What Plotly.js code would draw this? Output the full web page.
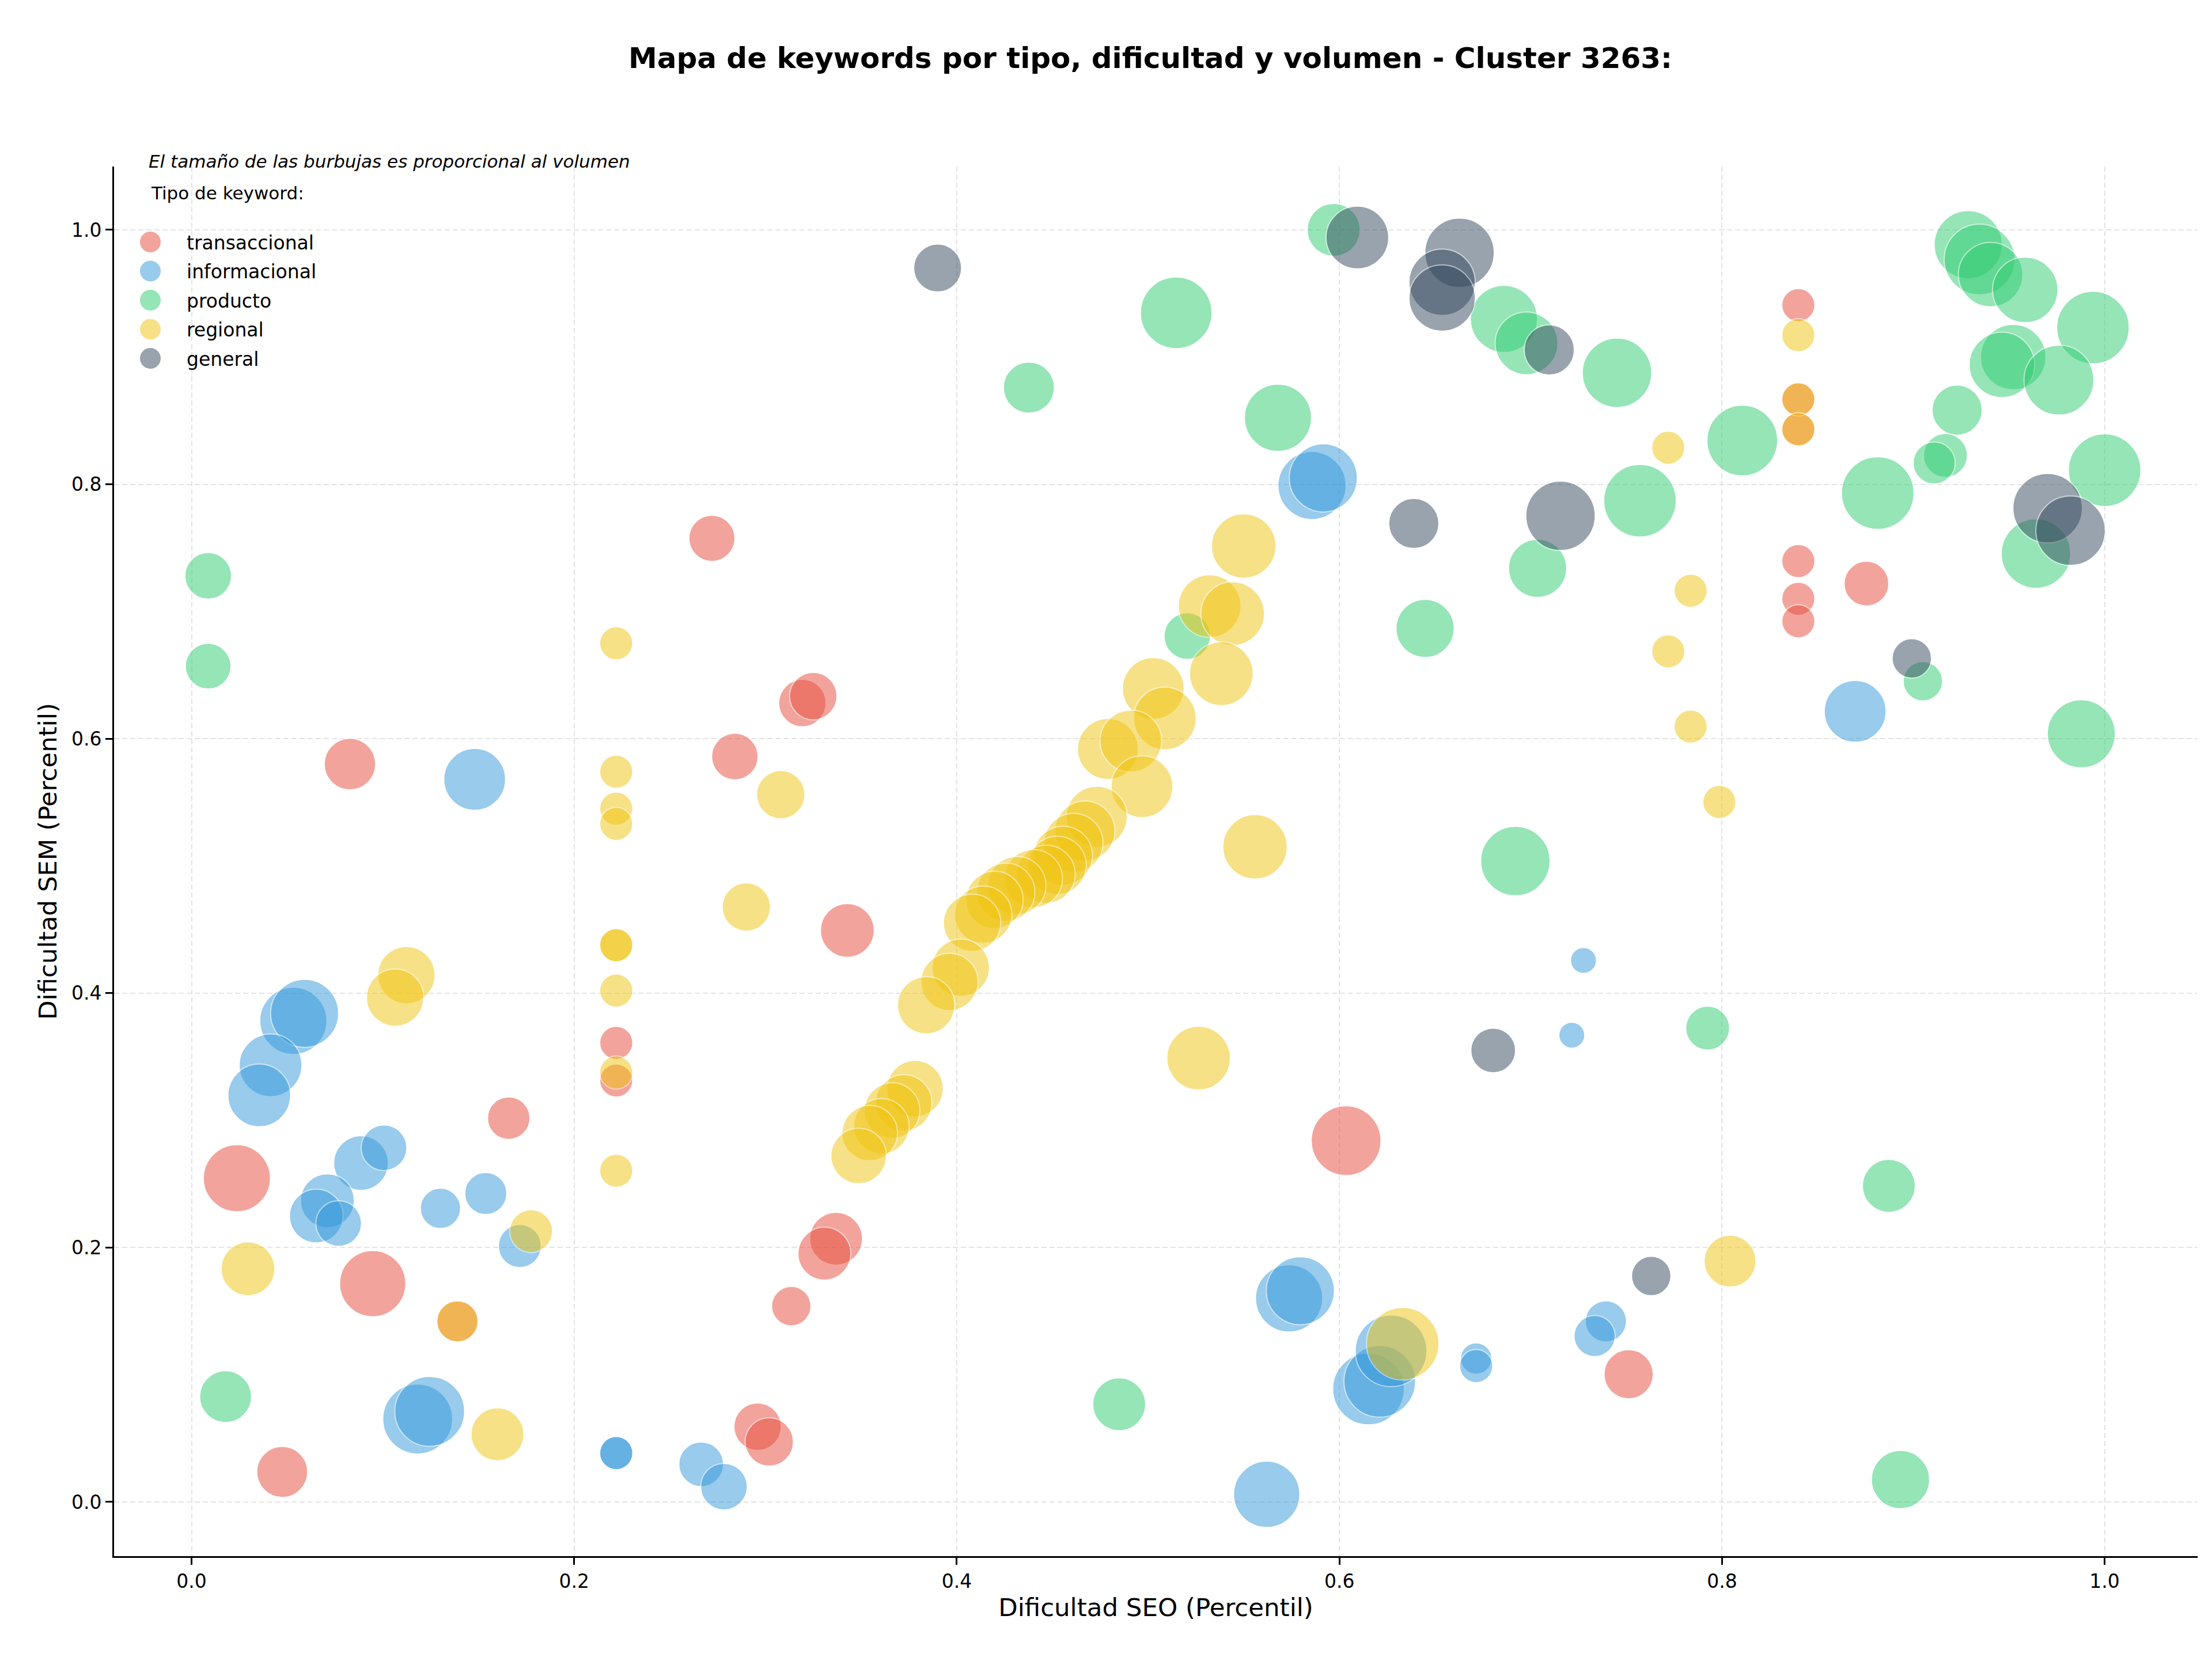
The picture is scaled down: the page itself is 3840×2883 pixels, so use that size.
<!DOCTYPE html>
<html>
<head>
<meta charset="utf-8">
<script src="https://cdn.plot.ly/plotly-3.0.1.min.js"></script>
<style>
html,body{margin:0;padding:0;background:#ffffff;}
#chart{width:3840px;height:2883px;}
</style>
</head>
<body>
<div id="chart"></div>
<script>
// ---------- DATA ----------
const tipos = ['transaccional', 'informacional', 'producto', 'regional', 'general'];
const colores = ['#e74c3c', '#3498db', '#2ecc71', '#f1c40f', '#34495e'];

const xTicks = [0, 0.2, 0.4, 0.6, 0.8, 1.0];
const xTickLabels = ['0.0', '0.2', '0.4', '0.6', '0.8', '1.0'];
const yTicks = [0, 0.2, 0.4, 0.6, 0.8, 1.0];
const yTickLabels = ['0.0', '0.2', '0.4', '0.6', '0.8', '1.0'];

// transaccional
const transSEO = [0.272, 0.3193, 0.325, 0.0828, 0.284, 0.3428, 0.222, 0.222, 0.1658, 0.0237, 0.0947, 0.3369, 0.3308, 0.3135, 0.2959, 0.302, 0.0474, 0.139, 0.6035, 0.7512, 0.8399, 0.8399, 0.8399, 0.8399, 0.8399, 0.8399, 0.8755];
const transSEM = [0.7575, 0.628, 0.6335, 0.580, 0.586, 0.4493, 0.3609, 0.3313, 0.3017, 0.2545, 0.1716, 0.2069, 0.1952, 0.154, 0.0592, 0.0472, 0.0236, 0.142, 0.284, 0.1004, 0.9408, 0.8668, 0.8432, 0.7396, 0.71, 0.6923, 0.7219];
const transVol = [642, 680, 680, 801, 655, 872, 332, 332, 546, 1362, 1326, 843, 843, 469, 680, 706, 787, 512, 1473, 733, 332, 332, 332, 332, 332, 332, 605];

// informacional
const infoSEO = [0.148, 0.5857, 0.5916, 0.0532, 0.0591, 0.0413, 0.0354, 0.0886, 0.1006, 0.071, 0.0652, 0.0769, 0.1301, 0.1538, 0.1716, 0.1182, 0.1245, 0.222, 0.222, 0.2664, 0.2783, 0.5737, 0.5796, 0.562, 0.6152, 0.6211, 0.627, 0.6715, 0.6715, 0.7276, 0.7215, 0.7393, 0.7334, 0.8696];
const infoSEM = [0.568, 0.799, 0.805, 0.3782, 0.3841, 0.3433, 0.3196, 0.2664, 0.2784, 0.2368, 0.2248, 0.2189, 0.2308, 0.2425, 0.2012, 0.0652, 0.0712, 0.0384, 0.0384, 0.0296, 0.012, 0.16, 0.166, 0.006, 0.0888, 0.0948, 0.1188, 0.1128, 0.1068, 0.4257, 0.3669, 0.142, 0.1304, 0.6215];
const infoVol = [1153, 1399, 1399, 1362, 1399, 1187, 1187, 901, 630, 872, 872, 630, 490, 535, 558, 1473, 1473, 332, 332, 605, 655, 1362, 1399, 1326, 1550, 1550, 1550, 297, 332, 204, 204, 512, 512, 1153];

// producto
const prodSEO = [0.0087, 0.0087, 0.0178, 0.597, 0.5147, 0.4377, 0.5679, 0.5205, 0.6448, 0.686, 0.6978, 0.7451, 0.8106, 0.7571, 0.7036, 0.8814, 0.905, 0.9878, 0.692, 0.9287, 0.9346, 0.9404, 0.9585, 0.9939, 0.9522, 0.9463, 0.9761, 0.9229, 0.9168, 0.9109, 1.0, 0.9641, 0.4849, 0.7925, 0.8872, 0.8933];
const prodSEM = [0.728, 0.657, 0.0828, 1.0, 0.9348, 0.876, 0.8523, 0.6807, 0.6867, 0.930, 0.9108, 0.8876, 0.8344, 0.7871, 0.7339, 0.7931, 0.6451, 0.6039, 0.5038, 0.9884, 0.9767, 0.9648, 0.9528, 0.9232, 0.90, 0.8939, 0.8819, 0.8583, 0.8227, 0.8167, 0.8111, 0.7455, 0.0768, 0.3725, 0.2485, 0.0176];
const prodVol = [655, 630, 815, 843, 1550, 787, 1362, 655, 1023, 1362, 1187, 1455, 1511, 1589, 1023, 1589, 469, 1399, 1455, 1399, 1511, 1255, 1291, 1589, 1291, 1291, 1473, 759, 581, 535, 1589, 1455, 843, 581, 843, 1023];

// regional
const regSEO = [0.222, 0.222, 0.222, 0.222, 0.308, 0.29, 0.1123, 0.1064, 0.222, 0.222, 0.222, 0.222, 0.222, 0.1775, 0.0295, 0.139, 0.1599, 0.550, 0.5322, 0.5442, 0.5383, 0.5027, 0.5088, 0.479, 0.491, 0.4968, 0.5559, 0.4732, 0.467, 0.461, 0.4555, 0.4525, 0.4467, 0.440, 0.4314, 0.4256, 0.4197, 0.4138, 0.408, 0.4021, 0.3962, 0.384, 0.3782, 0.3723, 0.3662, 0.3606, 0.3545, 0.3487, 0.5264, 0.6331, 0.8042, 0.7719, 0.7836, 0.7719, 0.7836, 0.7986, 0.8399, 0.8399, 0.8399];
const regSEM = [0.675, 0.574, 0.545, 0.533, 0.556, 0.4677, 0.4141, 0.3965, 0.4377, 0.4377, 0.402, 0.3376, 0.2604, 0.2129, 0.1833, 0.142, 0.0532, 0.7515, 0.7043, 0.6983, 0.6511, 0.6395, 0.6159, 0.5919, 0.5982, 0.5623, 0.515, 0.5387, 0.5274, 0.518, 0.508, 0.5004, 0.4934, 0.490, 0.4846, 0.4793, 0.4733, 0.4617, 0.4553, 0.42, 0.4088, 0.3905, 0.3249, 0.3137, 0.3077, 0.2953, 0.29, 0.272, 0.3489, 0.1244, 0.1893, 0.8287, 0.7163, 0.6687, 0.6095, 0.5503, 0.9172, 0.8668, 0.8432];
const regVol = [332, 332, 332, 332, 706, 706, 992, 992, 332, 332, 332, 332, 332, 558, 872, 512, 843, 1255, 1187, 1221, 1221, 1153, 1187, 1120, 1153, 1153, 1255, 1120, 1087, 1055, 1055, 1023, 1023, 1023, 1023, 1023, 992, 992, 992, 992, 992, 992, 961, 961, 931, 931, 931, 931, 1221, 1589, 815, 332, 332, 332, 332, 332, 332, 332, 332];

// general
const genSEO = [0.390, 0.6094, 0.6628, 0.6537, 0.6537, 0.6389, 0.7097, 0.7156, 0.8992, 0.9702, 0.9822, 0.6804, 0.763];
const genSEM = [0.970, 0.994, 0.982, 0.9588, 0.9464, 0.7692, 0.9056, 0.7752, 0.6631, 0.7812, 0.7635, 0.3549, 0.1776];
const genVol = [693, 1187, 1455, 1326, 1326, 759, 759, 1455, 469, 1455, 1455, 605, 469];

const seriesSEO = [transSEO, infoSEO, prodSEO, regSEO, genSEO];
const seriesSEM = [transSEM, infoSEM, prodSEM, regSEM, genSEM];
const seriesVol = [transVol, infoVol, prodVol, regVol, genVol];

// ---------- CHART ----------
const FONT = 'DejaVu Sans, Verdana, sans-serif';

const traces = tipos.map((t, i) => ({
  type: 'scatter',
  mode: 'markers',
  name: t,
  legendgroup: t,
  x: seriesSEO[i],
  y: seriesSEM[i],
  marker: {
    size: seriesVol[i],
    sizemode: 'area',
    sizeref: 0.2,
    color: colores[i],
    opacity: 0.5,
    line: {color: '#ffffff', width: 2}
  },
  hoverinfo: 'skip'
}));

const layout = {
  width: 3840,
  height: 2883,
  margin: {l: 198, r: 25, t: 289, b: 182},
  paper_bgcolor: '#ffffff',
  plot_bgcolor: '#ffffff',
  font: {family: FONT, color: '#000000', size: 33},
  title: {
    text: 'Mapa de keywords por tipo, dificultad y volumen - Cluster 3263:',
    font: {family: FONT, size: 50, weight: 'bold', color: '#000000'},
    xref: 'container', x: 1997 / 3840, xanchor: 'center',
    yref: 'container', y: 1 - 100 / 2883, yanchor: 'middle'
  },
  xaxis: {
    range: [-0.0405, 1.0486],
    tickvals: xTicks,
    ticktext: xTickLabels,
    showline: true, linecolor: '#000000', linewidth: 3,
    ticks: 'outside', ticklen: 12, tickwidth: 3, tickcolor: '#000000',
    tickfont: {family: FONT, size: 33, color: '#000000'},
    showgrid: true, gridcolor: '#e3e3e3', gridwidth: 2, griddash: '9px,5px',
    zeroline: false,
    automargin: false,
    title: {text: 'Dificultad SEO (Percentil)', font: {family: FONT, size: 43.5, color: '#000000'}, standoff: 12}
  },
  yaxis: {
    range: [-0.0426, 1.0498],
    tickvals: yTicks,
    ticktext: yTickLabels,
    showline: true, linecolor: '#000000', linewidth: 3,
    ticks: 'outside', ticklen: 12, tickwidth: 3, tickcolor: '#000000',
    tickfont: {family: FONT, size: 33, color: '#000000'},
    showgrid: true, gridcolor: '#e3e3e3', gridwidth: 2, griddash: '9px,5px',
    zeroline: false,
    automargin: false,
    title: {text: 'Dificultad SEM (Percentil)', font: {family: FONT, size: 43.5, color: '#000000'}, standoff: 12}
  },
  showlegend: true,
  legend: {
    x: 0.0, xanchor: 'left', xref: 'paper',
    y: (2701 - 392) / 2412, yanchor: 'top', yref: 'paper',
    bgcolor: 'rgba(0,0,0,0)',
    borderwidth: 0,
    font: {family: FONT, size: 33, color: '#000000'},
    itemwidth: 116,
    tracegroupgap: 4.6,
    itemclick: false, itemdoubleclick: false
  },
  annotations: [
    {
      text: 'El tamaño de las burbujas es proporcional al volumen',
      xref: 'paper', yref: 'paper',
      x: (256 - 198) / 3617, xanchor: 'left',
      y: (2701 - 280) / 2412, yanchor: 'middle',
      showarrow: false,
      font: {family: FONT, size: 31, style: 'italic', color: '#000000'}
    },
    {
      text: 'Tipo de keyword:',
      xref: 'paper', yref: 'paper',
      x: (260 - 198) / 3617, xanchor: 'left',
      y: (2701 - 335) / 2412, yanchor: 'middle',
      showarrow: false,
      font: {family: FONT, size: 31, color: '#000000'}
    }
  ]
};

Plotly.newPlot('chart', traces, layout, {displayModeBar: false, staticPlot: true}).then(function () {
  // enlarge legend bubbles to match the reference look
  const r = 19;
  document.querySelectorAll('.legend path.scatterpts').forEach(function (p) {
    p.setAttribute('d', 'M' + r + ',0A' + r + ',' + r + ' 0 1,1 0,-' + r + 'A' + r + ',' + r + ' 0 0,1 ' + r + ',0Z');
  });
});
</script>
</body>
</html>
